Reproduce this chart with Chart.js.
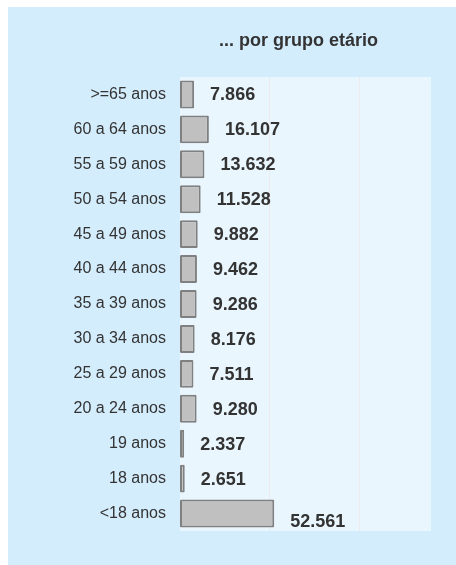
<!DOCTYPE html>
<html>
<head>
<meta charset="utf-8">
<script src="https://cdn.jsdelivr.net/npm/chart.js@4.4.0/dist/chart.umd.min.js"></script>
<style>
  html, body { margin: 0; padding: 0; background: #ffffff; overflow: hidden; }
  #box {
    position: absolute;
    left: 8px;
    top: 7px;
    width: 448px;
    height: 558px;
    background: #d4edfd;
  }
</style>
</head>
<body>
<div id="box"><canvas id="myChart"></canvas></div>
<script>
// categories, top to bottom
const ageGroups = ['>=65 anos', '60 a 64 anos', '55 a 59 anos', '50 a 54 anos', '45 a 49 anos',
  '40 a 44 anos', '35 a 39 anos', '30 a 34 anos', '25 a 29 anos', '20 a 24 anos',
  '19 anos', '18 anos', '<18 anos'];
const counts = [7866, 16107, 13632, 11528, 9882, 9462, 9286, 8176, 7511, 9280, 2337, 2651, 52561];
const chartTitle = '... por grupo etário';
const axisMax = 140000;
const gridValues = [50000, 100000];

const FONT = 'Arial, "Liberation Sans", sans-serif';

// 52561 -> "52.561"
function fmt(v) {
  return String(v).replace(/\B(?=(\d{3})+(?!\d))/g, '.');
}

const plotBg = {
  id: 'plotBg',
  beforeDraw(chart) {
    const { ctx, chartArea: a } = chart;
    ctx.save();
    ctx.fillStyle = '#e9f6fe';
    ctx.fillRect(a.left, a.top, a.right - a.left, a.bottom - a.top);
    ctx.restore();
  }
};

const extras = {
  id: 'extras',
  afterDatasetsDraw(chart) {
    const { ctx, chartArea: a } = chart;
    ctx.save();
    // title
    ctx.font = 'bold 18px ' + FONT;
    ctx.fillStyle = '#333333';
    ctx.textAlign = 'center';
    ctx.textBaseline = 'middle';
    ctx.fillText(chartTitle, (a.left + a.right) / 2 - 7, a.top - 36);
    // value labels
    ctx.font = 'bold 18px ' + FONT;
    ctx.textAlign = 'left';
    const meta = chart.getDatasetMeta(0);
    meta.data.forEach((bar, i) => {
      // the last (widest) label sits a bit lower in the original
      const dy = i === counts.length - 1 ? 8 : 1;
      ctx.fillText(fmt(counts[i]), bar.x + 16, bar.y + dy);
    });
    ctx.restore();
  }
};

new Chart(document.getElementById('myChart'), {
  type: 'bar',
  data: {
    labels: ageGroups,
    datasets: [{
      data: counts,
      backgroundColor: '#c0c0c0',
      borderColor: '#808080',
      borderWidth: 2,
      borderSkipped: false,
      borderRadius: 1,
      categoryPercentage: 0.8,
      barPercentage: 1
    }]
  },
  options: {
    indexAxis: 'y',
    responsive: true,
    maintainAspectRatio: false,
    animation: false,
    layout: { padding: { top: 70, right: 25, bottom: 34, left: 0 } },
    plugins: {
      legend: { display: false },
      tooltip: { enabled: false },
      title: { display: false }
    },
    scales: {
      x: {
        min: 0,
        max: axisMax,
        afterBuildTicks(scale) {
          scale.ticks = gridValues.map(v => ({ value: v }));
        },
        ticks: { display: false },
        border: { display: false },
        grid: { drawTicks: false, color: '#ececec' }
      },
      y: {
        afterFit(scale) { scale.width = 172; },
        ticks: {
          color: '#333333',
          font: { family: FONT, size: 16 },
          padding: 14
        },
        border: { display: false },
        grid: { display: false, drawTicks: false }
      }
    }
  },
  plugins: [plotBg, extras]
});
</script>
</body>
</html>
